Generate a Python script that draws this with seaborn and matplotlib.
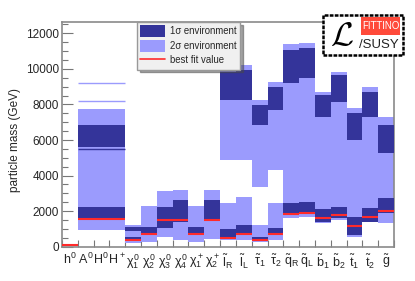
import matplotlib
matplotlib.use("Agg")
import matplotlib.pyplot as plt
import numpy as np
import seaborn as sns
from matplotlib.lines import Line2D
from matplotlib.patches import Patch, Rectangle

nan = np.nan

# particle labels (x axis)
labels = [r'$h^0$', r'$A^0$', r'$H^0$', r'$H^+$',
          r'$\chi^0_1$', r'$\chi^0_2$', r'$\chi^0_3$', r'$\chi^0_4$',
          r'$\chi^+_1$', r'$\chi^+_2$',
          r'$\tilde{l}_R$', r'$\tilde{l}_L$', r'$\tilde{\tau}_1$', r'$\tilde{\tau}_2$',
          r'$\tilde{q}_R$', r'$\tilde{q}_L$', r'$\tilde{b}_1$', r'$\tilde{b}_2$',
          r'$\tilde{t}_1$', r'$\tilde{t}_2$', r'$\tilde{g}$']

# 2 sigma environment, lower band (GeV)
two_sig_lo = [100, 940, 940, 940, 190, 280, 560, 380, 280, 420,
              380, 380, 280, 380, 1600, 1690, 1320, 1500, 560, 1400, 1320]
two_sig_hi = [150, 7730, 7730, 7730, 1220, 2290, 3150, 3190, 2290, 3190,
              2440, 2810, 1220, 2440, 11400, 11470, 8720, 9840, 7780, 9000, 7310]
# 2 sigma environment, upper band
two_sig_up_lo = [nan, nan, nan, nan, nan, nan, nan, nan, nan, nan,
                 4880, 4880, 3370, 4310, nan, nan, nan, nan, nan, nan, nan]
two_sig_up_hi = [nan, nan, nan, nan, nan, nan, nan, nan, nan, nan,
                 10120, 10220, 8250, 9280, nan, nan, nan, nan, nan, nan, nan]

# 1 sigma environment, lower band
one_sig_lo = [nan, 1500, 1500, 1500, 380, 750, 1030, 1410, 710, 1500,
              560, 750, 380, 660, 1780, 1870, 1410, 1600, 660, 1410, 1870]
one_sig_hi = [nan, 2250, 2250, 2250, 560, 1090, 2250, 2630, 1090, 2630,
              980, 1220, 560, 1030, 2440, 2530, 2100, 2250, 1690, 2160, 2720]
# 1 sigma environment, upper band
one_sig_up_lo = [nan, 5590, 5590, 5590, 900, nan, nan, nan, nan, nan,
                 8250, 8250, 6840, 7690, 9190, 9470, 7310, 8150, 6000, 7310, 5250]
one_sig_up_hi = [nan, 6840, 6840, 6840, 1090, nan, nan, nan, nan, nan,
                 9840, 9940, 7970, 9000, 11060, 11160, 8530, 9660, 7500, 8720, 6840]

# best fit value
best_fit = [120, 1575, 1575, 1575, 380, 715, 1500, 1500, 715, 1500,
            470, 715, 380, 715, 1840, 1910, 1600, 1780, 1190, 1650, 2020]

# isolated thin strips for the heavy higgses
higgs_idx = [1, 2, 3]
higgs_thin_light = [9220, 8180]
higgs_thin_dark = [5480]

light = '#9b9bfd'
dark = '#34349a'
red = '#ff2a2a'

sns.set_theme(style="ticks")
plt.rcParams['font.family'] = ['Liberation Sans', 'DejaVu Sans']
plt.rcParams['mathtext.fontset'] = 'custom'
plt.rcParams['mathtext.rm'] = 'Liberation Sans'
plt.rcParams['mathtext.it'] = 'Liberation Sans'
plt.rcParams['mathtext.bf'] = 'Liberation Sans:bold'

fig = plt.figure(figsize=(4.15, 2.81), dpi=100)
ax = fig.add_axes([62 / 415, 1 - 246.7 / 281, 332 / 415, 224.7 / 281])

x = np.arange(len(labels))
lo2, hi2 = np.array(two_sig_lo, float), np.array(two_sig_hi, float)
ulo2, uhi2 = np.array(two_sig_up_lo, float), np.array(two_sig_up_hi, float)
lo1, hi1 = np.array(one_sig_lo, float), np.array(one_sig_hi, float)
ulo1, uhi1 = np.array(one_sig_up_lo, float), np.array(one_sig_up_hi, float)

ax.bar(x, hi2 - lo2, bottom=lo2, width=1.0, color=light, linewidth=0, zorder=2)
ax.bar(x, uhi2 - ulo2, bottom=ulo2, width=1.0, color=light, linewidth=0, zorder=2)
ax.bar(x, hi1 - lo1, bottom=lo1, width=1.0, color=dark, linewidth=0, zorder=3)
ax.bar(x, uhi1 - ulo1, bottom=ulo1, width=1.0, color=dark, linewidth=0, zorder=3)

for v in higgs_thin_light:
    ax.hlines(v, higgs_idx[0] - 0.5, higgs_idx[-1] + 0.5, color=light, lw=1.0, zorder=3)
for v in higgs_thin_dark:
    ax.hlines(v, higgs_idx[0] - 0.5, higgs_idx[-1] + 0.5, color=dark, lw=1.0, zorder=3)

ax.hlines(best_fit, x - 0.5, x + 0.5, color=red, lw=1.5, zorder=4)

ax.set_xlim(-0.5, len(labels) - 0.5)
ax.set_ylim(0, 12640)

# axes styling, ROOT like
for s in ax.spines.values():
    s.set_color('#8a8a8a')
    s.set_linewidth(1.2)
ax.set_xticks(x)
ax.set_xticklabels(labels, fontsize=9)
ax.set_xticks(np.arange(len(labels) + 1) - 0.5, minor=True)
ax.tick_params(axis='x', which='major', length=0, pad=4)
ax.tick_params(axis='x', which='minor', direction='in', length=5, color='#777777', width=0.8)
ax.set_yticks(np.arange(0, 12001, 2000))
ax.set_yticks(np.arange(0, 12600, 500), minor=True)
ax.tick_params(axis='y', which='major', direction='in', length=8, color='#777777', width=0.8,
               labelsize=8.5, pad=2)
ax.tick_params(axis='y', which='minor', direction='in', length=4, color='#777777', width=0.8)
ax.set_ylabel('particle mass (GeV)', fontsize=8.5)
ax.yaxis.set_label_coords(-0.123, 0.475)

handles = [Patch(facecolor=dark, edgecolor='none'),
           Patch(facecolor=light, edgecolor='none'),
           Line2D([], [], color=red, lw=1.2)]
leg = ax.legend(handles, ['1σ environment', '2σ environment', 'best fit value'],
                loc='upper left', bbox_to_anchor=(0.226, 1.0), frameon=True,
                fancybox=False, shadow=True, facecolor='#f0f0f0', edgecolor='#999999',
                fontsize=6.9, handlelength=2.6, handleheight=1.5, borderpad=0.35,
                labelspacing=0.3, handletextpad=0.5, borderaxespad=0)
leg.set_zorder(10)
leg.get_frame().set_alpha(1)

# Fittino logo
lax = fig.add_axes([323 / 415, 1 - 55 / 281, 80 / 415, 40 / 281])
lax.set_xlim(0, 1)
lax.set_ylim(0, 1)
lax.axis('off')
lax.add_patch(Rectangle((0, 0), 1, 1, facecolor='white', edgecolor='black', lw=1.8,
                        linestyle=(0, (1.5, 0.5)), transform=lax.transAxes, clip_on=False))
lax.add_patch(Rectangle((0.475, 0.5), 0.49, 0.45, facecolor='#ff4a3a', edgecolor='none'))
lax.text(0.72, 0.73, 'FITTINO', color='white', fontsize=7, ha='center', va='center')
lax.text(0.95, 0.25, '/SUSY', color='#222222', fontsize=9.5, ha='right', va='center')
lax.text(0.24, 0.47, r'$\mathcal{L}$', color='black', fontsize=24, ha='center', va='center',
         math_fontfamily='cm')

fig.savefig('out.png', dpi=100)
